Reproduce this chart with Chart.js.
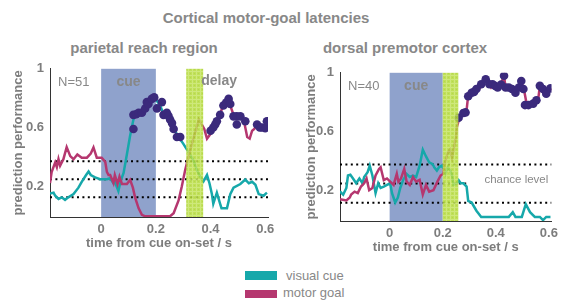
<!DOCTYPE html>
<html>
<head>
<meta charset="utf-8">
<script src="https://cdn.jsdelivr.net/npm/chart.js@4/dist/chart.umd.min.js"></script>
<style>
  body { margin: 0; width: 563px; height: 306px; position: relative; background: #fff; overflow: hidden;
         font-family: "Liberation Sans", Arial, sans-serif; color: #888; }
  canvas { position: absolute; }
  .ttl { position: absolute; width: 300px; text-align: center; font-weight: bold; font-size: 15px; line-height: 18px; white-space: nowrap; }
  .sw { position: absolute; left: 245px; width: 32px; }
  .lg { position: absolute; font-size: 13px; line-height: 16px; white-space: nowrap; }
</style>
</head>
<body>
<div class="ttl" style="left:116px;top:9px">Cortical motor-goal latencies</div>
<div class="ttl" style="left:-6px;top:39px">parietal reach region</div>
<div class="ttl" style="left:255px;top:39px">dorsal premotor cortex</div>

<canvas id="prr" width="282" height="200" style="left:0;top:55px"></canvas>
<canvas id="pmd" width="281" height="200" style="left:282px;top:59px"></canvas>

<div class="sw" style="top:271px;height:9px;background:#16a8aa"></div>
<div class="lg" style="left:286px;top:268px">visual cue</div>
<div class="sw" style="top:290px;height:8px;background:#b5376f"></div>
<div class="lg" style="left:283px;top:285px">motor goal</div>

<script>
// ---------- data ----------
const xTickVals = [0, 0.2, 0.4, 0.6];
const xTickLabels = ["0", "0.2", "0.4", "0.6"];
const yTickVals = [0.2, 0.6, 1];
const yTickLabels = ["0.2", "0.6", "1"];
const cueWindow = [0, 0.2];

// parietal reach region
const prrVisualT = [-0.187,-0.174,-0.168,-0.156,-0.144,-0.132,-0.12,-0.101,-0.083,-0.071,-0.055,-0.046,-0.038,-0.022,-0.004,0.021,0.033,0.045,0.05,0.063,0.072,0.082,0.094,0.106,0.118,0.124,0.137,0.149,0.161,0.167,0.18,0.194,0.204,0.216,0.228,0.24,0.252,0.265,0.277,0.289,0.3,0.32,0.338,0.35,0.362,0.374,0.387,0.396,0.405,0.41,0.423,0.435,0.44,0.46,0.472,0.484,0.509,0.527,0.54,0.552,0.564,0.576,0.594,0.606];
const prrVisualY = [0.15,0.156,0.135,0.113,0.124,0.107,0.124,0.146,0.19,0.23,0.276,0.3,0.276,0.26,0.248,0.248,0.254,0.22,0.23,0.167,0.24,0.29,0.416,0.545,0.654,0.69,0.7,0.7,0.73,0.77,0.79,0.81,0.78,0.75,0.69,0.7,0.655,0.6,0.55,0.52,0.49,0.43,0.373,0.31,0.265,0.233,0.276,0.22,0.145,0.08,0.156,0.08,0.05,0.05,0.146,0.19,0.215,0.245,0.22,0.23,0.21,0.146,0.135,0.156];
const prrMotorT = [-0.187,-0.181,-0.168,-0.162,-0.156,-0.15,-0.144,-0.138,-0.126,-0.113,-0.101,-0.087,-0.071,-0.052,-0.038,-0.028,-0.016,0.002,0.015,0.021,0.027,0.033,0.045,0.05,0.06,0.067,0.076,0.094,0.106,0.116,0.124,0.137,0.149,0.161,0.216,0.252,0.265,0.283,0.295,0.307,0.32,0.332,0.344,0.357,0.368,0.377,0.387,0.4,0.41,0.43,0.44,0.454,0.466,0.472,0.484,0.496,0.509,0.521,0.534,0.543,0.552,0.56,0.57,0.582,0.6,0.606];
const prrMotorY = [0.222,0.297,0.362,0.33,0.384,0.34,0.362,0.384,0.466,0.405,0.384,0.416,0.394,0.394,0.422,0.464,0.394,0.394,0.366,0.297,0.276,0.276,0.222,0.276,0.215,0.265,0.215,0.215,0.243,0.19,0.124,0.049,0.005,-0.005,-0.005,-0.005,0.016,0.103,0.2,0.308,0.405,0.49,0.568,0.654,0.62,0.59,0.524,0.557,0.6,0.654,0.72,0.773,0.795,0.75,0.686,0.665,0.686,0.654,0.535,0.524,0.578,0.59,0.62,0.59,0.62,0.643];
const prrDotsT = [0.118,0.118,0.128,0.137,0.149,0.161,0.167,0.173,0.185,0.194,0.204,0.222,0.228,0.24,0.246,0.252,0.259,0.265,0.277,0.289,0.4,0.41,0.417,0.423,0.435,0.447,0.457,0.466,0.472,0.484,0.496,0.496,0.509,0.527,0.57,0.58,0.588,0.6,0.606];
const prrDotsY = [0.59,0.686,0.69,0.7,0.7,0.73,0.773,0.76,0.795,0.805,0.73,0.773,0.686,0.7,0.68,0.654,0.63,0.59,0.535,0.535,0.578,0.6,0.62,0.643,0.686,0.75,0.77,0.795,0.76,0.676,0.676,0.62,0.676,0.643,0.62,0.6,0.6,0.595,0.643];
const prrChance = [0.125, 0.247, 0.37];
const prrDelay = [0.311, 0.373];

// dorsal premotor cortex
const pmdVisualT = [-0.187,-0.181,-0.175,-0.163,-0.157,-0.148,-0.138,-0.126,-0.114,-0.102,-0.096,-0.083,-0.075,-0.065,-0.053,-0.043,-0.034,-0.022,-0.01,0.002,0.009,0.021,0.031,0.04,0.051,0.064,0.076,0.088,0.1,0.113,0.125,0.137,0.149,0.162,0.168,0.178,0.186,0.196,0.204,0.21,0.219,0.229,0.235,0.241,0.253,0.26,0.268,0.278,0.29,0.296,0.309,0.327,0.345,0.376,0.449,0.464,0.474,0.498,0.513,0.529,0.547,0.566,0.578,0.59,0.606];
const pmdVisualY = [0.192,0.18,0.17,0.215,0.3,0.305,0.28,0.247,0.28,0.247,0.29,0.323,0.367,0.3,0.18,0.247,0.215,0.225,0.236,0.247,0.18,0.116,0.15,0.215,0.27,0.31,0.29,0.3,0.29,0.367,0.476,0.43,0.39,0.378,0.356,0.334,0.356,0.367,0.345,0.312,0.356,0.334,0.3,0.236,0.247,0.268,0.247,0.247,0.225,0.127,0.116,0.06,0.018,0.018,0.018,0.05,0.018,0.018,0.105,0.05,0.018,0.018,-0.004,0.018,0.018];
const pmdMotorT = [-0.187,-0.163,-0.15,-0.145,-0.132,-0.12,-0.108,-0.096,-0.087,-0.077,-0.065,-0.053,-0.04,-0.034,-0.022,-0.01,0.002,0.015,0.027,0.033,0.043,0.055,0.064,0.076,0.088,0.1,0.113,0.125,0.137,0.149,0.165,0.18,0.192,0.202,0.21,0.219,0.227,0.235,0.244,0.25,0.253,0.263,0.278,0.29,0.296,0.315,0.333,0.351,0.364,0.382,0.394,0.412,0.431,0.437,0.449,0.464,0.48,0.498,0.508,0.517,0.535,0.547,0.56,0.566,0.578,0.59,0.602,0.609];
const pmdMotorY = [0.138,0.13,0.15,0.17,0.19,0.18,0.225,0.247,0.28,0.2,0.215,0.3,0.345,0.356,0.268,0.28,0.258,0.236,0.312,0.258,0.28,0.345,0.258,0.236,0.29,0.258,0.27,0.17,0.236,0.19,0.2,0.258,0.3,0.312,0.4,0.454,0.476,0.42,0.508,0.563,0.628,0.694,0.715,0.748,0.846,0.857,0.88,0.922,0.955,0.9,0.933,0.9,0.977,0.9,0.91,0.88,0.89,0.933,0.868,0.78,0.79,0.813,0.824,0.911,0.89,0.857,0.9,0.88];
const pmdDotsT = [0.26,0.278,0.286,0.296,0.309,0.318,0.327,0.345,0.362,0.376,0.388,0.398,0.407,0.42,0.431,0.437,0.449,0.461,0.474,0.487,0.496,0.504,0.51,0.523,0.541,0.553,0.566,0.578,0.59,0.606];
const pmdDotsY = [0.694,0.726,0.73,0.84,0.864,0.87,0.89,0.922,0.955,0.922,0.922,0.91,0.9,0.92,0.98,0.9,0.9,0.89,0.864,0.9,0.944,0.89,0.78,0.78,0.79,0.813,0.911,0.89,0.857,0.894];
const pmdChance = [0.115, 0.245, 0.375];
const pmdChanceEnd = [0.61, 0.29, 0.61];
const pmdDelay = [0.2, 0.259];

// ---------- styling ----------
const TEAL = "#16a8aa", MAGENTA = "#b5376f", DOT = "#3b2a7c";
const CUE = "#8fa2cc", GREY = "#888";
const XMIN = -0.187, XMAX = 0.61, YMIN = -0.01, YMAX = 1.0;
const FONT = '"Liberation Sans", Arial, sans-serif';

function pts(t, y) { return t.map((v, i) => ({ x: v, y: y[i] })); }

// green, slightly textured delay window
function greenPattern(ctx) {
  const c = document.createElement("canvas");
  c.width = 4; c.height = 4;
  const g = c.getContext("2d");
  g.fillStyle = "#b5db3b"; g.fillRect(0, 0, 4, 4);
  g.fillStyle = "#c6e464"; g.fillRect(0, 0, 4, 1); g.fillRect(0, 0, 1, 4);
  g.fillStyle = "#a9d12f"; g.fillRect(2, 2, 1, 1);
  return ctx.createPattern(c, "repeat");
}

const windowsPlugin = {
  id: "windows",
  beforeDatasetsDraw(chart) {
    const { ctx, chartArea: a, scales: { x } } = chart;
    ctx.save();
    ctx.fillStyle = CUE;
    const c0 = x.getPixelForValue(cueWindow[0]), c1 = x.getPixelForValue(cueWindow[1]);
    ctx.fillRect(c0, a.top, c1 - c0, a.bottom - a.top);
    ctx.restore();
  },
  afterDatasetsDraw(chart) {
    const { ctx, chartArea: a, scales: { x, y } } = chart;
    const o = chart.options.plugins.windows;
    ctx.save();
    const d0 = x.getPixelForValue(o.delay[0]), d1 = x.getPixelForValue(o.delay[1]);
    ctx.globalAlpha = 0.85;
    ctx.fillStyle = greenPattern(ctx);
    ctx.fillRect(d0, a.top, d1 - d0, a.bottom - a.top);
    ctx.globalAlpha = 1;

    ctx.fillStyle = GREY;
    ctx.textBaseline = "middle";
    ctx.font = "13px " + FONT;
    ctx.textAlign = "left";
    ctx.fillText(o.n, a.left + 8, a.top + 14);

    ctx.font = "bold 14px " + FONT;
    ctx.textAlign = "center";
    const c0 = x.getPixelForValue(cueWindow[0]), c1 = x.getPixelForValue(cueWindow[1]);
    ctx.fillText("cue", (c0 + c1) / 2, a.top + 13);
    if (o.delayText) {
      ctx.textAlign = "left";
      ctx.fillText("delay", d1 - 2, a.top + 12);
    }
    if (o.chanceText) {
      ctx.font = "11.5px " + FONT;
      ctx.textAlign = "left";
      ctx.fillText("chance level", x.getPixelForValue(0.357), y.getPixelForValue(0.27));
    }
    ctx.restore();
  }
};

function makeChart(id, cfg) {
  const datasets = [
    { data: pts(cfg.dotsT, cfg.dotsY), showLine: false, pointRadius: 4.3, pointBackgroundColor: DOT, pointBorderWidth: 0 },
    { data: pts(cfg.motorT, cfg.motorY), borderColor: MAGENTA, borderWidth: 2.5, pointRadius: 0, tension: 0 },
    { data: pts(cfg.visualT, cfg.visualY), borderColor: TEAL, borderWidth: 2.5, pointRadius: 0, tension: 0 }
  ];
  cfg.chance.forEach((c, i) => {
    datasets.push({
      data: [{ x: XMIN, y: c }, { x: cfg.chanceEnd ? cfg.chanceEnd[i] : XMAX, y: c }],
      borderColor: "#000", borderWidth: 2, borderDash: [2, 3.4], pointRadius: 0
    });
  });

  const tickFont = { family: FONT, size: 13, weight: "bold" };
  return new Chart(document.getElementById(id), {
    type: "line",
    data: { datasets },
    plugins: [windowsPlugin],
    options: {
      responsive: false,
      animation: false,
      devicePixelRatio: 1,
      layout: { padding: cfg.padding },
      plugins: {
        legend: { display: false },
        tooltip: { enabled: false },
        windows: { delay: cfg.delay, n: cfg.n, delayText: cfg.delayText, chanceText: cfg.chanceText }
      },
      scales: {
        x: {
          type: "linear", min: XMIN, max: XMAX,
          afterFit: s => { s.height = 38; },
          afterBuildTicks: s => { s.ticks = xTickVals.map(v => ({ value: v })); },
          grid: { display: false, drawTicks: false },
          border: { color: "#333", width: 1 },
          ticks: { color: "#7d7d7d", padding: 5, font: tickFont,
                   callback: (v, i) => xTickLabels[i], maxRotation: 0 },
          title: { display: true, text: "time from cue on-set / s", color: "#7d7d7d", font: tickFont }
        },
        y: {
          type: "linear", min: YMIN, max: YMAX,
          afterFit: s => { s.width = cfg.yWidth; },
          afterBuildTicks: s => { s.ticks = yTickVals.map(v => ({ value: v })); },
          grid: { display: false, drawTicks: false },
          border: { color: "#333", width: 1 },
          ticks: { color: "#7d7d7d", padding: 6, font: tickFont,
                   callback: (v, i) => yTickLabels[i] },
          title: { display: true, text: "prediction performance", color: "#7d7d7d", font: tickFont }
        }
      }
    }
  });
}

makeChart("prr", {
  visualT: prrVisualT, visualY: prrVisualY, motorT: prrMotorT, motorY: prrMotorY,
  dotsT: prrDotsT, dotsY: prrDotsY, chance: prrChance, delay: prrDelay,
  n: "N=51", delayText: true, chanceText: false,
  padding: { left: 7, top: 7, right: 14, bottom: 0 }, yWidth: 43
});

makeChart("pmd", {
  visualT: pmdVisualT, visualY: pmdVisualY, motorT: pmdMotorT, motorY: pmdMotorY,
  dotsT: pmdDotsT, dotsY: pmdDotsY, chance: pmdChance, chanceEnd: pmdChanceEnd, delay: pmdDelay,
  n: "N=40", delayText: false, chanceText: true,
  padding: { left: 18, top: 7, right: 6, bottom: 0 }, yWidth: 40
});
</script>
</body>
</html>
